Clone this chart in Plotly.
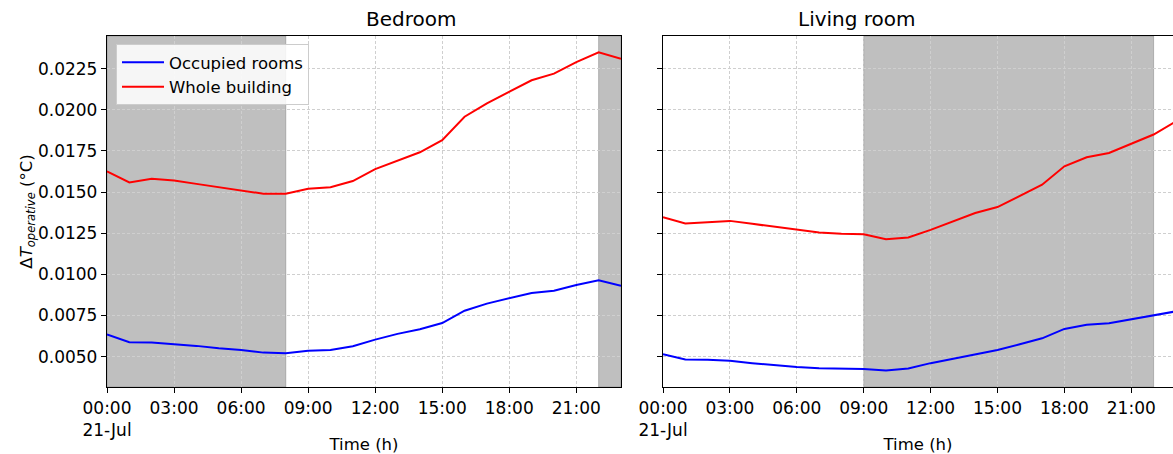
import plotly.graph_objects as go

hours = list(range(24))

bed_occupied = [0.00635, 0.00587, 0.00585, 0.00575, 0.00565, 0.00550, 0.00540, 0.00524,
                0.00520, 0.00536, 0.00540, 0.00563, 0.00603, 0.00638, 0.00666, 0.00704,
                0.00779, 0.00822, 0.00854, 0.00887, 0.00900, 0.00935, 0.00964, 0.00930]
bed_whole = [0.01626, 0.01559, 0.01581, 0.01570, 0.01550, 0.01530, 0.01510, 0.01490,
             0.01490, 0.01520, 0.01530, 0.01567, 0.01640, 0.01690, 0.01742, 0.01816,
             0.01958, 0.02040, 0.02110, 0.02180, 0.02220, 0.02290, 0.02350, 0.02310]

liv_occupied = [0.00514, 0.00482, 0.00480, 0.00474, 0.00460, 0.00447, 0.00437, 0.00429,
                0.00427, 0.00425, 0.00415, 0.00427, 0.00460, 0.00486, 0.00514, 0.00540,
                0.00575, 0.00611, 0.00668, 0.00694, 0.00702, 0.00726, 0.00752, 0.00775]
liv_whole = [0.01347, 0.01309, 0.01317, 0.01325, 0.01307, 0.01288, 0.01272, 0.01254,
             0.01246, 0.01244, 0.01214, 0.01224, 0.01270, 0.01320, 0.01373, 0.01409,
             0.01476, 0.01545, 0.01657, 0.01712, 0.01738, 0.01794, 0.01850, 0.01930]

bed_shade = [(0, 8), (22, 23)]
liv_shade = [(9, 22)]

tick_hours = [0, 3, 6, 9, 12, 15, 18, 21]
tick_labels = ["00:00<br>21-Jul", "03:00", "06:00", "09:00", "12:00", "15:00", "18:00", "21:00"]
y_ticks = [0.0050, 0.0075, 0.0100, 0.0125, 0.0150, 0.0175, 0.0200, 0.0225]
y_tick_labels = ["0.0050", "0.0075", "0.0100", "0.0125", "0.0150", "0.0175", "0.0200", "0.0225"]

W, H = 1173, 454
FONT = "DejaVu Sans"
BLUE = "#0000ff"
RED = "#ff0000"

fig = go.Figure()
fig.add_trace(go.Scatter(x=hours, y=bed_occupied, mode="lines", name="Occupied rooms",
                         line=dict(color=BLUE, width=2), xaxis="x", yaxis="y"))
fig.add_trace(go.Scatter(x=hours, y=bed_whole, mode="lines", name="Whole building",
                         line=dict(color=RED, width=2), xaxis="x", yaxis="y"))
fig.add_trace(go.Scatter(x=hours, y=liv_occupied, mode="lines", showlegend=False,
                         line=dict(color=BLUE, width=2), xaxis="x2", yaxis="y2"))
fig.add_trace(go.Scatter(x=hours, y=liv_whole, mode="lines", showlegend=False,
                         line=dict(color=RED, width=2), xaxis="x2", yaxis="y2"))

SHADE = "rgba(128,128,128,0.5)"
shapes = []
for (a, b) in bed_shade:
    shapes.append(dict(type="rect", xref="x", yref="y domain", x0=a, x1=b, y0=0, y1=1,
                       fillcolor=SHADE, line=dict(width=1, color=SHADE), layer="below"))
for (a, b) in liv_shade:
    shapes.append(dict(type="rect", xref="x2", yref="y2 domain", x0=a, x1=b, y0=0, y1=1,
                       fillcolor=SHADE, line=dict(width=1, color=SHADE), layer="below"))

yr = [0.00315, 0.02449]
GRID = "#cfcfcf"
common_x = dict(tickmode="array", tickvals=tick_hours, ticktext=tick_labels,
                showgrid=True, gridcolor=GRID, griddash="3px,2px", gridwidth=0.8,
                showline=True, linecolor="black", linewidth=1.3,
                ticks="outside", ticklen=5, tickcolor="black", tickwidth=1.3,
                tickfont=dict(size=17, color="black"), zeroline=False, automargin=False,
                title=dict(text="Time (h)", font=dict(size=16.5, color="black"), standoff=7))
common_y = dict(range=yr, tickmode="array", tickvals=y_ticks, ticktext=y_tick_labels,
                showgrid=True, gridcolor=GRID, griddash="3px,2px", gridwidth=0.8,
                showline=True, linecolor="black", linewidth=1.3,
                ticks="outside", ticklen=5, tickcolor="black", tickwidth=1.3,
                tickfont=dict(size=17, color="black"), zeroline=False, automargin=False)

fig.update_layout(
    width=W, height=H,
    margin=dict(l=0, r=0, t=36, b=67, pad=0),
    paper_bgcolor="white", plot_bgcolor="white",
    font=dict(family=FONT, color="black"),
    shapes=shapes,
    xaxis=dict(domain=[107 / W, 621 / W], range=[0, 23], anchor="y", mirror=True, **common_x),
    xaxis2=dict(domain=[663 / W, 1.0], range=[0, 22.87], anchor="y2", mirror=True, **common_x),
    yaxis=dict(anchor="x", mirror=True,
               title=dict(text="Δ<i>T</i><sub><i>operative</i></sub> (°C)",
                          font=dict(size=16.5, color="black"), standoff=0),
               **common_y),
    yaxis2=dict(anchor="x2", showticklabels=False, matches="y", mirror=False, **common_y),
    legend=dict(x=116 / W, y=(387 - 44) / 351, xanchor="left", yanchor="top",
                bgcolor="rgba(255,255,255,0.85)", bordercolor="#cccccc", borderwidth=1,
                font=dict(size=16.5, color="black"), tracegroupgap=0, itemwidth=42),
    annotations=[
        dict(text="Bedroom", x=364 / W, y=1, xref="paper", yref="paper",
             yanchor="bottom", yshift=3, showarrow=False, font=dict(size=20, color="black")),
        dict(text="Living room", x=918 / W, y=1, xref="paper", yref="paper",
             yanchor="bottom", yshift=3, showarrow=False, font=dict(size=20, color="black")),
    ],
)

fig.write_html("out.html")
